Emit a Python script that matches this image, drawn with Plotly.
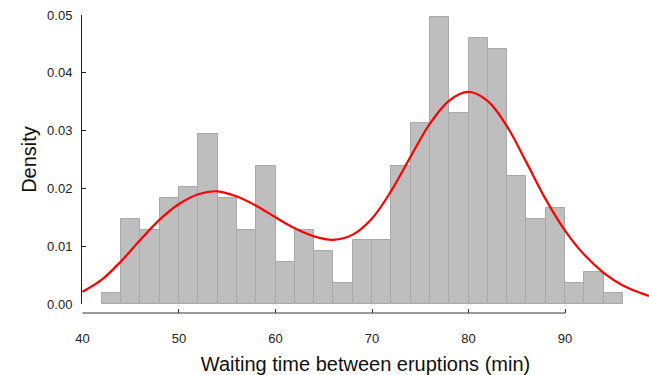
import plotly.graph_objects as go

# Histogram bins (left edges, width 2 min) and densities
bin_left = [42, 44, 46, 48, 50, 52, 54, 56, 58, 60, 62, 64, 66, 68,
            70, 72, 74, 76, 78, 80, 82, 84, 86, 88, 90, 92, 94]
density = [0.00184, 0.01471, 0.01287, 0.01838, 0.02022, 0.02941, 0.01838,
           0.01287, 0.02390, 0.00735, 0.01287, 0.00919, 0.00368, 0.01103,
           0.01103, 0.02390, 0.03125, 0.04963, 0.03309, 0.04596, 0.04412,
           0.02206, 0.01471, 0.01654, 0.00368, 0.00551, 0.00184]
bin_width = 2

# Fitted density curve
curve_x = [40, 42, 44, 46, 48, 50, 52, 54, 56, 58, 60, 62, 64, 66, 68,
           70, 72, 74, 76, 78, 80, 82, 84, 86, 88, 90, 92, 94, 96, 98, 98.7]
curve_y = [0.0021, 0.0042, 0.0074, 0.0111, 0.0146, 0.0173, 0.0190, 0.0195,
           0.0186, 0.0170, 0.0150, 0.0131, 0.0117, 0.0111, 0.0120, 0.0148,
           0.0196, 0.0255, 0.0312, 0.0352, 0.0367, 0.0351, 0.0307, 0.0245,
           0.0181, 0.0127, 0.0085, 0.0054, 0.0032, 0.0018, 0.0014]

x_ticks = [40, 50, 60, 70, 80, 90]
y_ticks = [0.00, 0.01, 0.02, 0.03, 0.04, 0.05]

bar_centers = [b + bin_width / 2 for b in bin_left]

fig = go.Figure()
fig.add_trace(go.Bar(
    x=bar_centers, y=density, width=[bin_width] * len(bin_left),
    marker=dict(color="#bebebe", line=dict(color="#a9a9a9", width=1)),
    showlegend=False, hoverinfo="skip"))
fig.add_trace(go.Scatter(
    x=curve_x, y=curve_y, mode="lines",
    line=dict(color="#ff0000", width=2.2, shape="spline", smoothing=1.0),
    showlegend=False, hoverinfo="skip"))

font_family = "Liberation Sans, Arial, sans-serif"

fig.update_layout(
    width=649, height=375,
    margin=dict(l=82, r=0, t=15, b=62),
    plot_bgcolor="white", paper_bgcolor="white",
    bargap=0,
    font=dict(family=font_family, color="#222222", size=13),
    xaxis=dict(
        range=[39.95, 98.7], anchor="free", position=0,
        showline=False, showgrid=False, zeroline=False,
        ticks="inside", ticklen=4, tickcolor="#333333", tickwidth=1,
        tickvals=x_ticks, ticktext=[str(v) for v in x_ticks],
        tickfont=dict(size=13), ticklabelstandoff=16,
        title=dict(text="Waiting time between eruptions (min)",
                   font=dict(size=20, color="#111111"), standoff=12),
    ),
    yaxis=dict(
        range=[0, 0.05], domain=[0.0302, 1],
        showline=True, linecolor="#222222", linewidth=1,
        showgrid=False, zeroline=False,
        ticks="inside", ticklen=4, tickcolor="#222222", tickwidth=1,
        tickvals=y_ticks, tickformat=".2f",
        tickfont=dict(size=13), ticklabelstandoff=6,
        title=dict(text="Density", font=dict(size=20, color="#111111"),
                   standoff=5),
    ),
    shapes=[dict(type="line", xref="x", yref="paper", x0=40, x1=90,
                 y0=0, y1=0, line=dict(color="#333333", width=1))],
)

fig.write_html("out.html")
